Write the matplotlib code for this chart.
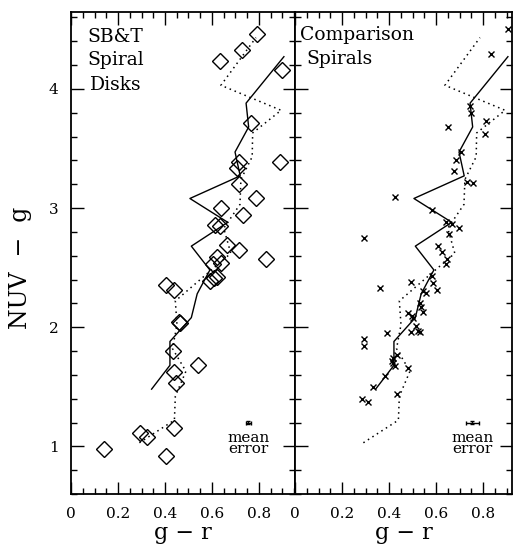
import matplotlib.pyplot as plt
from matplotlib.ticker import MultipleLocator

plt.rcParams['font.family'] = ['DejaVu Serif']

# SB&T spiral disks (diamonds)
sbt_gr = [0.79, 0.729, 0.635, 0.90, 0.766, 0.889, 0.715, 0.705, 0.717, 0.789,
          0.638, 0.73, 0.613, 0.632, 0.662, 0.716, 0.830, 0.623, 0.606, 0.637,
          0.591, 0.623, 0.609, 0.403, 0.438, 0.461, 0.464, 0.435, 0.542, 0.44,
          0.445, 0.44, 0.294, 0.325, 0.403, 0.14]
sbt_nuvg = [4.46, 4.33, 4.23, 4.16, 3.71, 3.39, 3.39, 3.34, 3.20, 3.08,
            3.00, 2.94, 2.86, 2.85, 2.69, 2.65, 2.57, 2.59, 2.53, 2.54,
            2.39, 2.42, 2.41, 2.35, 2.31, 2.04, 2.035, 1.80, 1.68, 1.62,
            1.53, 1.15, 1.11, 1.08, 0.92, 0.98]

# comparison spirals (crosses)
comp_gr = [0.908, 0.834, 0.745, 0.749, 0.811, 0.653, 0.807, 0.705, 0.685, 0.676,
           0.731, 0.757, 0.426, 0.582, 0.643, 0.667, 0.697, 0.654, 0.295, 0.608,
           0.627, 0.648, 0.642, 0.582, 0.494, 0.363, 0.587, 0.605, 0.546, 0.557,
           0.531, 0.538, 0.543, 0.479, 0.496, 0.504, 0.514, 0.522, 0.532, 0.494,
           0.393, 0.292, 0.294, 0.433, 0.416, 0.411, 0.418, 0.426, 0.482, 0.382,
           0.333, 0.436, 0.287, 0.312]
comp_nuvg = [4.50, 4.29, 3.86, 3.80, 3.73, 3.68, 3.62, 3.47, 3.40, 3.31,
             3.22, 3.21, 3.09, 2.98, 2.88, 2.87, 2.83, 2.78, 2.75, 2.68,
             2.63, 2.57, 2.53, 2.43, 2.38, 2.33, 2.37, 2.31, 2.30, 2.29,
             2.20, 2.17, 2.13, 2.12, 2.09, 2.08, 2.01, 1.97, 1.96, 1.96,
             1.95, 1.90, 1.84, 1.77, 1.74, 1.72, 1.70, 1.67, 1.66, 1.59,
             1.50, 1.44, 1.40, 1.37]

# reference curves (same in both panels)
solid_gr = [0.343, 0.421, 0.421, 0.512, 0.537, 0.591, 0.512, 0.667, 0.506, 0.72,
            0.698, 0.756, 0.745, 0.906]
solid_nuvg = [1.48, 1.68, 1.88, 2.08, 2.28, 2.48, 2.68, 2.88, 3.08, 3.27,
              3.47, 3.68, 3.88, 4.27]
dot_gr = [0.291, 0.44, 0.444, 0.489, 0.432, 0.451, 0.444, 0.562, 0.68, 0.65,
          0.719, 0.723, 0.771, 0.773, 0.894, 0.638, 0.787]
dot_nuvg = [1.03, 1.22, 1.42, 1.63, 1.82, 2.02, 2.22, 2.42, 2.62, 2.83,
            3.03, 3.24, 3.43, 3.63, 3.82, 4.03, 4.43]

# mean error bars
err_x = 0.754
err_y = 1.20
err_sbt = (0.010, 0.015)
err_comp = (0.027, 0.015)

xticks = [0, 0.2, 0.4, 0.6, 0.8]
xticklabels = ['0', '0.2', '0.4', '0.6', '0.8']
yticks = [1, 2, 3, 4]
yticklabels = ['1', '2', '3', '4']

fig = plt.figure(figsize=(5.13, 5.5), dpi=100)
ax1 = fig.add_axes([71/513, 56/550, 224/513, 482/550])
ax2 = fig.add_axes([295/513, 56/550, 217/513, 482/550])

for ax, xmax in [(ax1, 224/235), (ax2, 217/235)]:
    ax.set_xlim(0, xmax)
    ax.set_ylim(0.60, 4.645)
    ax.plot(solid_gr, solid_nuvg, color='k', lw=1)
    ax.plot(dot_gr, dot_nuvg, color='k', lw=1.1, linestyle=(0, (1, 2.5)))
    ax.set_xticks(xticks)
    ax.set_xticklabels(xticklabels)
    ax.set_yticks(yticks)
    ax.set_yticklabels(yticklabels)
    ax.xaxis.set_minor_locator(MultipleLocator(0.05))
    ax.yaxis.set_minor_locator(MultipleLocator(0.2))
    ax.tick_params(which='both', direction='in', top=True, right=True, width=1)
    ax.tick_params(which='major', length=9)
    ax.tick_params(which='minor', length=4.5)
    ax.tick_params(axis='x', labelsize=11, pad=9)
    ax.tick_params(axis='y', labelsize=11, pad=9)
    for s in ax.spines.values():
        s.set_linewidth(1.3)
    ax.set_xlabel('g \u2212 r', fontsize=16, labelpad=1)
    ax.text(0.755, 1.125, 'mean\nerror', ha='center', va='top', fontsize=11,
            linespacing=0.72)

ax1.plot(sbt_gr, sbt_nuvg, linestyle='none', marker='D', markersize=8,
         mfc='none', mec='k', mew=1)
ax1.errorbar([err_x], [err_y], xerr=[err_sbt[0]], yerr=[err_sbt[1]],
             fmt='none', ecolor='k', elinewidth=1, capsize=1.5)
ax1.text(0.19, 4.39, 'SB&T', ha='center', va='baseline', fontsize=13.5)
ax1.text(0.19, 4.20, 'Spiral', ha='center', va='baseline', fontsize=13.5)
ax1.text(0.19, 3.99, 'Disks', ha='center', va='baseline', fontsize=13.5)
ax1.set_ylabel('NUV  \u2212  g', fontsize=17)
ax1.yaxis.set_label_coords(-0.175, 0.47)

ax2.plot(comp_gr, comp_nuvg, linestyle='none', marker='x', markersize=4.5,
         mec='k', mew=1)
ax2.errorbar([err_x], [err_y], xerr=[err_comp[0]], yerr=[err_comp[1]],
             fmt='none', ecolor='k', elinewidth=1, capsize=1.5)
ax2.text(0.021, 4.41, 'Comparison', ha='left', va='baseline', fontsize=13.5)
ax2.text(0.05, 4.21, 'Spirals', ha='left', va='baseline', fontsize=13.5)
ax2.tick_params(labelleft=False)

fig.savefig('out.png', dpi=100)
